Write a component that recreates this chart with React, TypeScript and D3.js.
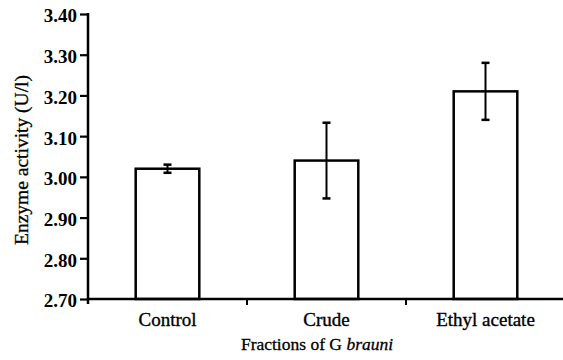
import { useEffect, useRef } from "react";
import * as d3 from "d3";

const categories = ["Control", "Crude", "Ethyl acetate"];
const means = [3.02, 3.04, 3.21];
const errors = [0.01, 0.093, 0.07];
const yTicks = [2.7, 2.8, 2.9, 3.0, 3.1, 3.2, 3.3, 3.4];

const App = () => {
  const chartRef = useRef<HTMLDivElement>(null);

  useEffect(() => {
    const root = d3.select(chartRef.current);
    root.selectAll("*").remove();

    const width = 563;
    const height = 360;
    const margin = { top: 14, right: 0, bottom: 61, left: 88 };
    const font = "Liberation Serif, DejaVu Serif, serif";

    const svg = root
      .append("svg")
      .attr("width", width)
      .attr("height", height)
      .style("display", "block")
      .style("font-family", font);

    // scales
    const x = d3
      .scaleBand()
      .domain(categories)
      .range([margin.left, width + 2])
      .padding(0);

    const y = d3
      .scaleLinear()
      .domain([2.7, 3.4])
      .range([height - margin.bottom, margin.top]);

    const barW = x.bandwidth() * 0.4;
    const bottom = y(2.7);

    // bars
    svg
      .append("g")
      .selectAll("rect")
      .data(categories)
      .join("rect")
      .attr("x", (d) => x(d)! + (x.bandwidth() - barW) / 2)
      .attr("y", (d, i) => y(means[i]))
      .attr("width", barW)
      .attr("height", (d, i) => bottom - y(means[i]))
      .attr("fill", "#fff")
      .attr("stroke", "#000")
      .attr("stroke-width", 2.5);

    // error bars
    const eb = svg
      .append("g")
      .attr("stroke", "#000")
      .attr("stroke-width", 2)
      .selectAll("g")
      .data(categories)
      .join("g");
    const cx = (d: string) => x(d)! + x.bandwidth() / 2;
    eb.append("line")
      .attr("x1", cx)
      .attr("x2", cx)
      .attr("y1", (d, i) => y(means[i] + errors[i]))
      .attr("y2", (d, i) => y(means[i] - errors[i]));
    eb.append("line")
      .attr("x1", (d) => cx(d) - 4)
      .attr("x2", (d) => cx(d) + 4)
      .attr("y1", (d, i) => y(means[i] + errors[i]))
      .attr("y2", (d, i) => y(means[i] + errors[i]))
      .attr("stroke-width", 2.5);
    eb.append("line")
      .attr("x1", (d) => cx(d) - 4)
      .attr("x2", (d) => cx(d) + 4)
      .attr("y1", (d, i) => y(means[i] - errors[i]))
      .attr("y2", (d, i) => y(means[i] - errors[i]))
      .attr("stroke-width", 2.5);

    // y axis
    const yAxis = svg
      .append("g")
      .attr("transform", `translate(${margin.left},0)`)
      .call(
        d3
          .axisLeft(y)
          .tickValues(yTicks)
          .tickSize(8)
          .tickPadding(3)
          .tickFormat(d3.format(".2f"))
      );
    yAxis.attr("font-family", null).attr("font-size", null);
    yAxis.select(".domain").remove();
    yAxis.selectAll("line").attr("stroke", "#000").attr("stroke-width", 2.2);
    yAxis
      .selectAll("text")
      .attr("dy", "0.42em")
      .attr("font-size", 19)
      .attr("font-weight", "bold")
      .attr("fill", "#000");
    svg
      .append("line")
      .attr("x1", margin.left)
      .attr("x2", margin.left)
      .attr("y1", y(3.4) - 1)
      .attr("y2", bottom + 5)
      .attr("stroke", "#000")
      .attr("stroke-width", 2.5);

    // x axis
    svg
      .append("line")
      .attr("x1", margin.left)
      .attr("x2", width)
      .attr("y1", bottom)
      .attr("y2", bottom)
      .attr("stroke", "#000")
      .attr("stroke-width", 2.5);
    svg
      .append("g")
      .selectAll("line")
      .data(categories.slice(1))
      .join("line")
      .attr("x1", (d) => x(d)!)
      .attr("x2", (d) => x(d)!)
      .attr("y1", bottom)
      .attr("y2", bottom + 6)
      .attr("stroke", "#000")
      .attr("stroke-width", 2);
    svg
      .append("g")
      .selectAll("text")
      .data(categories)
      .join("text")
      .attr("x", cx)
      .attr("y", bottom + 27)
      .attr("text-anchor", "middle")
      .attr("font-size", 19)
      .attr("fill", "#000")
      .attr("stroke", "#000")
      .attr("stroke-width", 0.35)
      .text((d) => d);

    // axis titles
    const xt = svg
      .append("text")
      .attr("x", 317)
      .attr("y", bottom + 51)
      .attr("text-anchor", "middle")
      .attr("font-size", 17.5)
      .attr("fill", "#000")
      .attr("stroke", "#000")
      .attr("stroke-width", 0.3);
    xt.append("tspan").text("Fractions of G ");
    xt.append("tspan").attr("font-style", "italic").text("brauni");

    svg
      .append("text")
      .attr("transform", `translate(28,160) rotate(-90)`)
      .attr("text-anchor", "middle")
      .attr("font-size", 19.5)
      .attr("fill", "#000")
      .attr("stroke", "#000")
      .attr("stroke-width", 0.3)
      .text("Enzyme activity (U/l)");

    return () => {
      root.selectAll("*").remove();
    };
  }, []);

  return <div ref={chartRef} style={{ position: "absolute", left: 0, top: 0 }}></div>;
};

export default App;
